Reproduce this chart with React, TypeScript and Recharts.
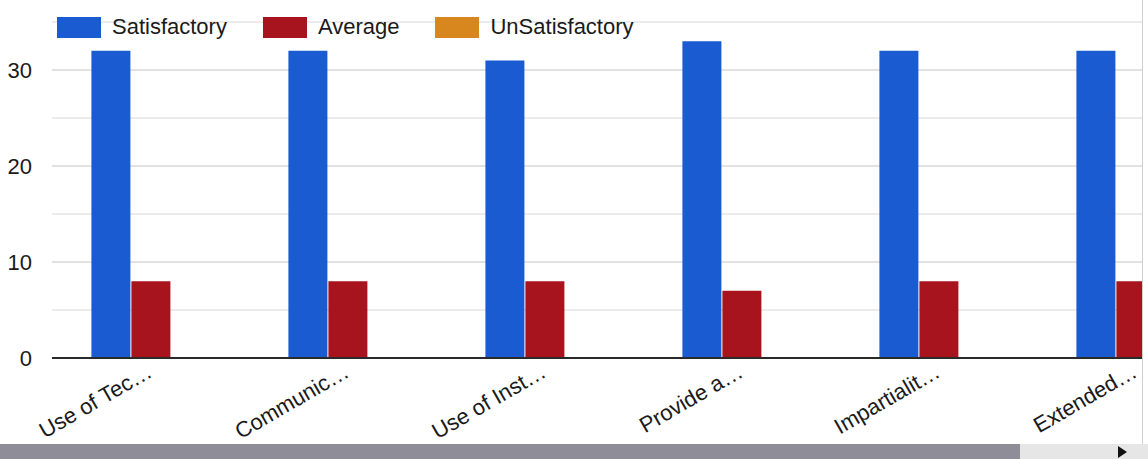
import { BarChart, Bar, XAxis, YAxis, CartesianGrid } from "recharts";

const CATEGORIES = [
  "Use of Tec…",
  "Communic…",
  "Use of Inst…",
  "Provide a…",
  "Impartialit…",
  "Extended…",
];
const SATISFACTORY = [32, 32, 31, 33, 32, 32];
const AVERAGE = [8, 8, 8, 7, 8, 8];
const UNSATISFACTORY = [0, 0, 0, 0, 0, 0];

const Y_TICKS = [0, 10, 20, 30];
const MAJOR_GRID = [10, 20, 30];
const MINOR_GRID = [5, 15, 25, 35];

const SERIES = [
  { key: "satisfactory", name: "Satisfactory", color: "#1a5bd2" },
  { key: "average", name: "Average", color: "#a8141e" },
  { key: "unsatisfactory", name: "UnSatisfactory", color: "#d8861e" },
];

const FONT = "Arial, 'Liberation Sans', sans-serif";

const data = CATEGORIES.map((name, i) => ({
  name,
  satisfactory: SATISFACTORY[i],
  average: AVERAGE[i],
  unsatisfactory: UNSATISFACTORY[i],
}));

function SlantTick(props: any) {
  const { x, y, payload } = props;
  const ax = x + 3;
  const ay = y + 10;
  return (
    <text
      x={ax}
      y={ay}
      textAnchor="end"
      fontSize={22}
      fontFamily={FONT}
      fill="#1a1a1a"
      transform={`rotate(-30, ${ax}, ${ay})`}
    >
      {payload.value}
    </text>
  );
}

function TopLegend() {
  return (
    <div
      style={{
        position: "absolute",
        left: 57,
        top: 14,
        display: "flex",
        alignItems: "center",
        fontFamily: FONT,
        fontSize: 22,
        color: "#1a1a1a",
      }}
    >
      {SERIES.map((s) => (
        <div key={s.key} style={{ display: "flex", alignItems: "center", marginRight: 36 }}>
          <span style={{ width: 44, height: 21, background: s.color, marginRight: 11 }} />
          <span>{s.name}</span>
        </div>
      ))}
    </div>
  );
}

export default function App() {
  return (
    <div
      style={{
        position: "fixed",
        left: 0,
        top: 0,
        width: 1148,
        height: 459,
        background: "#fff",
        overflow: "hidden",
      }}
    >
      <div
        style={{
          position: "absolute",
          left: 0,
          top: 0,
          width: 1142,
          height: 444,
          overflow: "hidden",
          borderRight: "1px solid #cfcfcf",
        }}
      >
        <BarChart
          width={1244}
          height={444}
          data={data}
          margin={{ top: 22, right: 10, bottom: 0, left: 0 }}
          barCategoryGap="20%"
          barGap={1}
        >
          <CartesianGrid
            vertical={false}
            horizontalValues={MINOR_GRID}
            stroke="#d8d8d8"
          />
          <CartesianGrid
            vertical={false}
            horizontalValues={MAJOR_GRID}
            stroke="#c4c4c4"
          />
          <YAxis
            width={52}
            domain={[0, 35]}
            ticks={Y_TICKS}
            axisLine={false}
            tickLine={false}
            tickSize={0}
            tickMargin={20}
            tick={{ fontSize: 22, fontFamily: FONT, fill: "#1a1a1a" }}
          />
          <XAxis
            dataKey="name"
            height={86}
            interval={0}
            axisLine={{ stroke: "#2a2a2a", strokeWidth: 2 }}
            tickLine={false}
            tick={<SlantTick />}
          />
          {SERIES.map((s) => (
            <Bar
              key={s.key}
              dataKey={s.key}
              name={s.name}
              fill={s.color}
              isAnimationActive={false}
            />
          ))}
        </BarChart>
        <TopLegend />
      </div>
      {/* scrollbar strip under the chart */}
      <div
        style={{
          position: "absolute",
          left: 0,
          top: 444,
          width: 1148,
          height: 15,
          background: "#e6e6e6",
        }}
      >
        <div style={{ width: 1020, height: 15, background: "#8e8d98" }} />
        <div
          style={{
            position: "absolute",
            left: 1118,
            top: 2,
            width: 0,
            height: 0,
            borderTop: "6px solid transparent",
            borderBottom: "6px solid transparent",
            borderLeft: "9px solid #111",
          }}
        />
      </div>
    </div>
  );
}
